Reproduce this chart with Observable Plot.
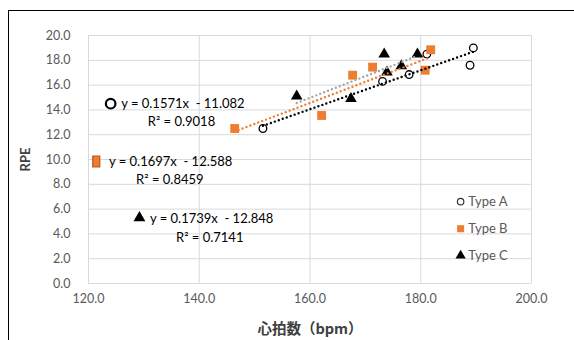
<!DOCTYPE html>
<html><head><meta charset="utf-8">
<script src="https://cdn.jsdelivr.net/npm/d3@7"></script>
<script src="https://cdn.jsdelivr.net/npm/@observablehq/plot@0.6"></script>
<style>
body{margin:0;background:#fff;}
#frame{position:absolute;left:8px;top:10px;width:570px;height:340px;border-left:1.5px solid #000;border-top:1.5px solid #000;box-sizing:border-box;}
#chart{position:absolute;left:0;top:0;}
#chart svg text{white-space:pre;}
g[aria-label="y-axis label"] text, g[aria-label="x-axis label"] text{font-weight:bold;fill:#404040;}
g[aria-label="x-axis label"] text{font-family:"Noto Sans CJK JP",sans-serif;font-size:14.5px;}
g[aria-label="y-axis label"] text{font-size:13px;}
</style></head><body><div id="frame"></div><div id="chart"></div>
<script>
// ---- data ----
const seriesNames = ["Type A", "Type B", "Type C"];
const typeA_hr  = [151.5, 173.1, 177.9, 181.1, 189.5, 188.9];
const typeA_rpe = [12.5, 16.3, 16.85, 18.5, 19.0, 17.6];
const typeB_hr  = [146.4, 162.1, 167.7, 171.3, 180.8, 181.8];
const typeB_rpe = [12.5, 13.55, 16.8, 17.45, 17.2, 18.85];
const typeC_hr  = [157.6, 167.4, 173.4, 173.9, 176.5, 179.4];
const typeC_rpe = [15.1, 14.9, 18.5, 17.05, 17.55, 18.5];
const slopes = [0.1571, 0.1697, 0.1739];
const intercepts = [-11.082, -12.588, -12.848];
const r2Labels = ["0.9018", "0.8459", "0.7141"];
const xTicks = [120, 140, 160, 180, 200];
const yTicks = [0, 2, 4, 6, 8, 10, 12, 14, 16, 18, 20];

// ---- build tables ----
const hrs = [typeA_hr, typeB_hr, typeC_hr];
const rpes = [typeA_rpe, typeB_rpe, typeC_rpe];
const points = [];
seriesNames.forEach((s, i) => hrs[i].forEach((h, j) => points.push({series: s, hr: h, rpe: rpes[i][j]})));
const trend = [];
seriesNames.forEach((s, i) => {
  const [lo, hi] = d3.extent(hrs[i]);
  [lo, hi].forEach(x => trend.push({series: s, hr: x, rpe: slopes[i] * x + intercepts[i]}));
});
const eqText = seriesNames.map((s, i) => `y = ${slopes[i].toFixed(4)}x  - ${Math.abs(intercepts[i]).toFixed(3)}`);
const r2Text = r2Labels.map(r => `R² = ${r}`);

const colors = {"Type A": "#000000", "Type B": "#ED7D31", "Type C": "#A5A5A5"};
const tallRect = {draw(ctx, size) { const w = 3.5, h = 5.5; ctx.moveTo(-w, -h); ctx.lineTo(w, -h); ctx.lineTo(w, h); ctx.lineTo(-w, h); ctx.closePath(); }};

const font = "Lato, 'Open Sans', sans-serif";
const pts = s => points.filter(d => d.series === s);

const chart = Plot.plot({
  width: 574, height: 340,
  marginLeft: 88, marginRight: 43, marginTop: 35, marginBottom: 57,
  style: {fontFamily: font, fontSize: "12.5px", color: "#595959", background: "transparent"},
  x: {domain: [120, 200], ticks: xTicks, tickFormat: d => d.toFixed(1), tickSize: 0, tickPadding: 11,
      label: "心拍数（bpm）", labelAnchor: "center", labelOffset: 50, labelArrow: "none"},
  y: {domain: [0, 20], ticks: yTicks, tickFormat: d => d.toFixed(1), tickSize: 0, tickPadding: 18,
      label: "RPE", labelAnchor: "center", labelOffset: 68, labelArrow: "none"},
  marks: [
    Plot.gridX(xTicks, {stroke: "#d9d9d9", strokeOpacity: 1}),
    Plot.gridY(yTicks, {stroke: "#d9d9d9", strokeOpacity: 1}),
    Plot.dot(pts("Type A"), {x: "hr", y: "rpe", symbol: "circle", r: 3.8, stroke: "#000", strokeWidth: 1.3, fill: "white"}),
    Plot.dot(pts("Type B"), {x: "hr", y: "rpe", symbol: "square", r: 5.0, fill: "#ED7D31", stroke: "none"}),
    Plot.dot(pts("Type C"), {x: "hr", y: "rpe", symbol: "triangle", r: 4.3, fill: "#000", stroke: "none"}),
    Plot.line(trend, {x: "hr", y: "rpe", z: "series", stroke: d => colors[d.series], strokeWidth: 2.4,
      strokeDasharray: "0,4.2", strokeLinecap: "round"}),
    // equation labels with markers
    Plot.dot([0], {x: 124.0, y: 14.5, symbol: "circle", r: 4.8, stroke: "#000", strokeWidth: 2.2, fill: "white"}),
    Plot.dot([0], {x: 121.4, y: 9.84, symbol: tallRect, fill: "#ED7D31", stroke: "#B45A1E", strokeWidth: 1.2}),
    Plot.dot([0], {x: 129.2, y: 5.3, symbol: "triangle", r: 4.4, fill: "#000", stroke: "none"}),
    Plot.text([eqText[0]], {x: 125.9, y: 14.5, text: d => d, textAnchor: "start", fontSize: 13, fill: "#000"}),
    Plot.text([r2Text[0]], {x: 130.7, y: 13.05, text: d => d, textAnchor: "start", fontSize: 13, fill: "#000"}),
    Plot.text([eqText[1]], {x: 123.7, y: 9.84, text: d => d, textAnchor: "start", fontSize: 13, fill: "#000"}),
    Plot.text([r2Text[1]], {x: 128.6, y: 8.4, text: d => d, textAnchor: "start", fontSize: 13, fill: "#000"}),
    Plot.text([eqText[2]], {x: 131.1, y: 5.24, text: d => d, textAnchor: "start", fontSize: 13, fill: "#000"}),
    Plot.text([r2Text[2]], {x: 135.8, y: 3.7, text: d => d, textAnchor: "start", fontSize: 13, fill: "#000"}),
    // legend
    Plot.dot([0], {x: 187.2, y: 6.6, symbol: "circle", r: 3.2, stroke: "#333", strokeWidth: 1.2, fill: "white"}),
    Plot.dot([0], {x: 187.2, y: 4.42, symbol: "square", r: 4.0, fill: "#ED7D31", stroke: "none"}),
    Plot.dot([0], {x: 187.2, y: 2.25, symbol: "triangle", r: 3.8, fill: "#000", stroke: "none"}),
    Plot.text([seriesNames[0]], {x: 188.6, y: 6.6, text: d => d, textAnchor: "start", fontSize: 13, fill: "#595959"}),
    Plot.text([seriesNames[1]], {x: 188.6, y: 4.42, text: d => d, textAnchor: "start", fontSize: 13, fill: "#595959"}),
    Plot.text([seriesNames[2]], {x: 188.6, y: 2.25, text: d => d, textAnchor: "start", fontSize: 13, fill: "#595959"})
  ]
});
document.getElementById("chart").appendChild(chart);
</script>
</body></html>
